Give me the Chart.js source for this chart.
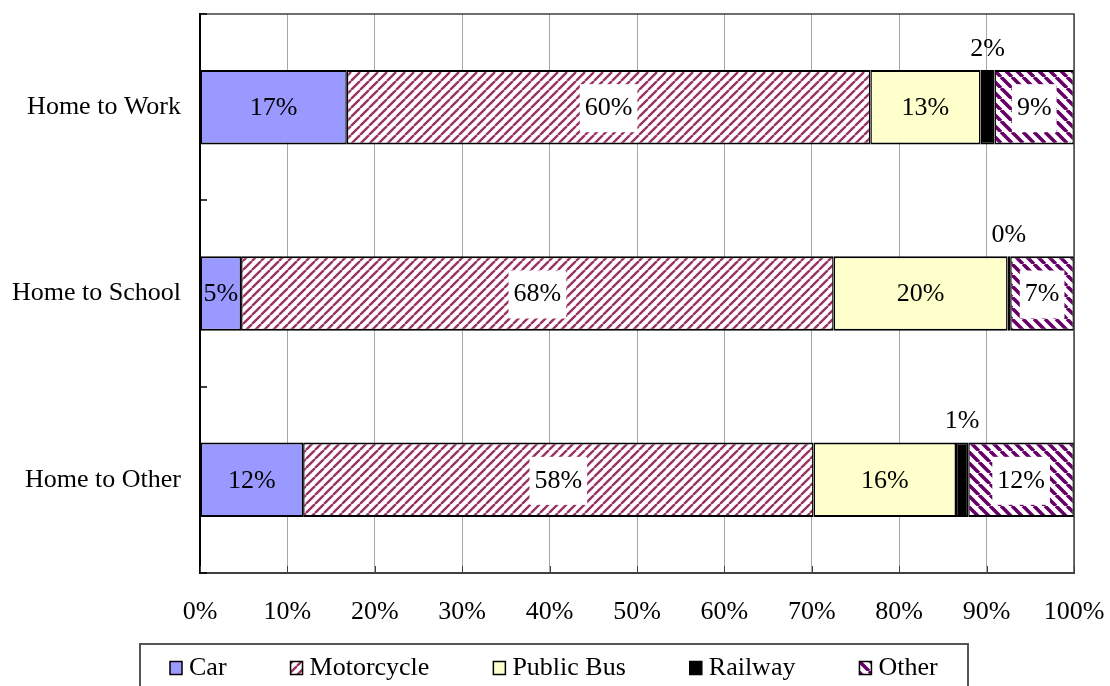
<!DOCTYPE html>
<html>
<head>
<meta charset="utf-8">
<script src="https://cdn.jsdelivr.net/npm/chart.js@4/dist/chart.umd.min.js"></script>
<style>
  html, body { margin: 0; padding: 0; background: #fff; }
  canvas { display: block; }
</style>
</head>
<body>
<canvas id="chart" width="1110" height="686"></canvas>
<script>
// Trip purpose categories and mode shares (%)
const categories = ['Home to Work', 'Home to School', 'Home to Other'];
const car        = [16.8, 4.7, 11.8];
const motorcycle = [59.9, 67.8, 58.4];
const publicBus  = [12.6, 19.9, 16.3];
const railway    = [1.6, 0.3, 1.4];
const other      = [9.1, 7.3, 12.1];
const xTicks     = [0, 10, 20, 30, 40, 50, 60, 70, 80, 90, 100];

const FONT = "'Liberation Serif', 'Times New Roman', serif";
const FONT_SIZE = 26;

const canvas = document.getElementById('chart');
const ctx = canvas.getContext('2d');

// Diagonal hatch fill on white
function hatch(color, size, width, dir) {
  const c = document.createElement('canvas');
  c.width = c.height = size;
  const g = c.getContext('2d');
  g.fillStyle = '#ffffff';
  g.fillRect(0, 0, size, size);
  g.strokeStyle = color;
  g.lineWidth = width;
  g.beginPath();
  for (let k = -1; k <= 1; k++) {
    if (dir === '/') {
      g.moveTo(k * size, size);
      g.lineTo(k * size + size, 0);
    } else {
      g.moveTo(k * size, 0);
      g.lineTo(k * size + size, size);
    }
  }
  g.stroke();
  return ctx.createPattern(c, 'repeat');
}

const motoFill  = hatch('#993366', 9, 2.4, '/');
const otherFill = hatch('#660066', 11, 3.6, '\\');

const series = [
  { label: 'Car',         data: car,        fill: '#9999ff', labelMode: 'plain' },
  { label: 'Motorcycle',  data: motorcycle, fill: motoFill,  labelMode: 'boxed' },
  { label: 'Public Bus',  data: publicBus,  fill: '#ffffcc', labelMode: 'plain' },
  { label: 'Railway',     data: railway,    fill: '#000000', labelMode: 'above' },
  { label: 'Other',       data: other,      fill: otherFill, labelMode: 'boxed' }
];

// Value labels on each bar segment
const valueLabels = {
  id: 'valueLabels',
  afterDatasetsDraw(chart) {
    const c = chart.ctx;
    c.save();
    c.font = FONT_SIZE + 'px ' + FONT;
    c.textAlign = 'center';
    c.textBaseline = 'middle';
    chart.data.datasets.forEach((ds, i) => {
      const meta = chart.getDatasetMeta(i);
      meta.data.forEach((bar, j) => {
        const p = bar.getProps(['x', 'base', 'y', 'height'], true);
        const text = Math.round(ds.data[j]) + '%';
        const cx = (p.x + p.base) / 2;
        let cy = p.y;
        if (ds.labelMode === 'above') {
          cy = p.y - p.height / 2 - 22;
        } else if (ds.labelMode === 'boxed') {
          const w = c.measureText(text).width + 10;
          const h = 48;
          c.fillStyle = '#ffffff';
          c.fillRect(cx - w / 2, cy - h / 2 + 1, w, h);
        }
        c.fillStyle = '#000000';
        c.fillText(text, cx, cy + 1);
      });
    });
    c.restore();
  }
};

// Plot frame, inner tick marks and the boxed legend
const frameAndLegend = {
  id: 'frameAndLegend',
  afterDraw(chart) {
    const c = chart.ctx;
    const a = chart.chartArea;
    const xs = chart.scales.x;
    const ys = chart.scales.y;
    c.save();
    // top and right frame
    c.strokeStyle = '#404040';
    c.lineWidth = 1.5;
    c.beginPath();
    c.moveTo(a.left, a.top);
    c.lineTo(a.right, a.top);
    c.lineTo(a.right, a.bottom);
    c.stroke();
    // inner ticks on the value axis
    c.lineWidth = 1;
    c.beginPath();
    xTicks.forEach(v => {
      const px = Math.round(xs.getPixelForValue(v)) + 0.5;
      c.moveTo(px, a.bottom);
      c.lineTo(px, a.bottom - 7);
    });
    c.stroke();
    // inner ticks on the category axis, at category boundaries
    c.strokeStyle = '#000000';
    c.lineWidth = 1.5;
    c.beginPath();
    const bounds = [a.top, a.bottom];
    for (let i = 0; i < categories.length - 1; i++) {
      bounds.push((ys.getPixelForValue(i) + ys.getPixelForValue(i + 1)) / 2);
    }
    bounds.forEach(y => {
      const py = Math.round(y);
      c.moveTo(a.left, py);
      c.lineTo(a.left + 7, py);
    });
    c.stroke();

    // legend
    const boxL = 140, boxR = 968, boxT = 644, boxB = 700;
    c.strokeStyle = '#555555';
    c.lineWidth = 2;
    c.strokeRect(boxL, boxT, boxR - boxL, boxB - boxT);
    c.font = FONT_SIZE + 'px ' + FONT;
    c.textBaseline = 'middle';
    c.textAlign = 'left';
    const sqW = 12, sqH = 13, gapText = 7, gapItem = 64;
    const items = chart.data.datasets.map(ds => ({
      ds, w: sqW + gapText + c.measureText(ds.label).width
    }));
    const total = items.reduce((s, it) => s + it.w, 0) + gapItem * (items.length - 1);
    let x = Math.round((boxL + boxR) / 2 - total / 2);
    const cy = 668;
    items.forEach(it => {
      c.fillStyle = it.ds.backgroundColor;
      c.fillRect(x, cy - sqH / 2, sqW, sqH);
      c.strokeStyle = '#000000';
      c.lineWidth = 1.5;
      c.strokeRect(x, cy - sqH / 2, sqW, sqH);
      c.fillStyle = '#000000';
      c.fillText(it.ds.label, x + sqW + gapText, cy);
      x += it.w + gapItem;
    });
    c.restore();
  }
};

new Chart(ctx, {
  type: 'bar',
  data: {
    labels: categories,
    datasets: series.map(s => ({
      label: s.label,
      data: s.data,
      backgroundColor: s.fill,
      borderColor: '#000000',
      borderWidth: { top: 2, bottom: 2, left: 1.5, right: 1.5 },
      borderSkipped: false,
      labelMode: s.labelMode,
      barPercentage: 0.4,
      categoryPercentage: 1.0
    }))
  },
  options: {
    indexAxis: 'y',
    responsive: false,
    animation: false,
    devicePixelRatio: 1,
    layout: { padding: { top: 14, right: 36, left: 0, bottom: 0 } },
    plugins: {
      legend: { display: false },
      tooltip: { enabled: false }
    },
    scales: {
      x: {
        stacked: true,
        min: 0,
        max: 100,
        afterBuildTicks(scale) {
          scale.ticks = xTicks.map(v => ({ value: v }));
        },
        afterFit(scale) {
          scale.height = 113;
          scale.paddingLeft = 0;
          scale.paddingRight = 0;
        },
        ticks: {
          callback: v => v + '%',
          color: '#000000',
          font: { family: FONT, size: FONT_SIZE },
          padding: 24,
          maxRotation: 0
        },
        grid: { color: '#a6a6a6', lineWidth: 1, drawTicks: false },
        border: { color: '#404040', width: 2 }
      },
      y: {
        stacked: true,
        afterFit(scale) {
          scale.width = 200;
          scale.paddingTop = 0;
          scale.paddingBottom = 0;
        },
        ticks: {
          color: '#000000',
          font: { family: FONT, size: FONT_SIZE },
          padding: 19
        },
        grid: { display: false, drawTicks: false },
        border: { color: '#000000', width: 2 }
      }
    }
  },
  plugins: [valueLabels, frameAndLegend]
});
</script>
</body>
</html>
